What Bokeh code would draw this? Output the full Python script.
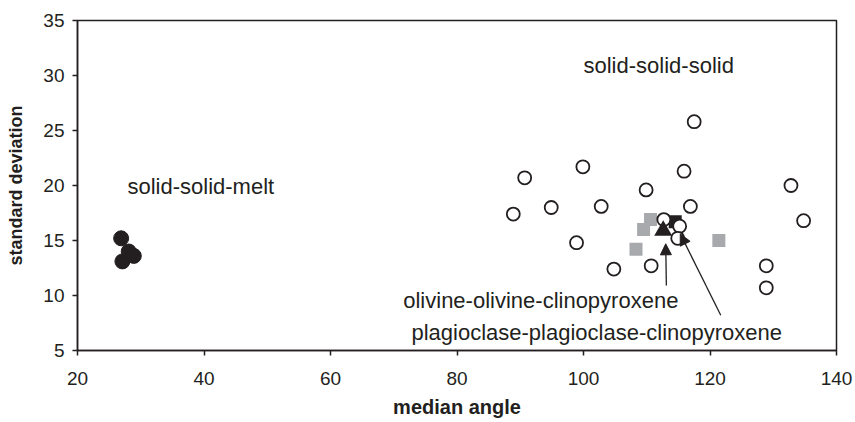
from bokeh.plotting import figure
from bokeh.models import Range1d, FixedTicker, Arrow, NormalHead, Label
from bokeh.embed import file_html
from bokeh.resources import INLINE

# ---- data ----
melt_x = [26.9, 27.1, 28.1, 28.9]
melt_y = [15.2, 13.1, 14.0, 13.6]

solid_x = [117.5, 99.9, 90.7, 115.9, 132.8, 109.9, 88.9, 94.9, 102.8, 116.9,
           134.8, 112.7, 115.2, 114.9, 98.9, 104.8, 110.7, 128.9, 128.9]
solid_y = [25.8, 21.7, 20.7, 21.3, 20.0, 19.6, 17.4, 18.0, 18.1, 18.1,
           16.8, 16.9, 16.3, 15.2, 14.8, 12.4, 12.7, 12.7, 10.7]

gray_x = [110.6, 109.5, 108.3, 121.4]
gray_y = [16.9, 16.0, 14.2, 15.0]

plag_x = [114.5]
plag_y = [16.7]

oliv_x = [112.6]
oliv_y = [15.9]

x_ticks = [20, 40, 60, 80, 100, 120, 140]
y_ticks = [5, 10, 15, 20, 25, 30, 35]

INK = "#231f20"
FONT = "Liberation Sans"

p = figure(width=853, height=420, output_backend="svg", toolbar_location=None,
           x_range=Range1d(20, 140), y_range=Range1d(5, 35),
           min_border_left=77, min_border_right=17, min_border_top=20, min_border_bottom=65)
p.xgrid.visible = False
p.ygrid.visible = False
p.outline_line_color = INK
p.outline_line_width = 1.5

for ax in (p.xaxis[0], p.yaxis[0]):
    ax.axis_line_color = INK
    ax.axis_line_width = 1.5
    ax.major_tick_line_color = INK
    ax.major_tick_line_width = 1.5
    ax.major_tick_in = 0
    ax.major_tick_out = 5
    ax.minor_tick_line_color = None
    ax.major_label_text_font = FONT
    ax.major_label_text_font_size = "19px"
    ax.major_label_text_color = INK
    ax.axis_label_text_font = FONT
    ax.axis_label_text_font_style = "bold"
    ax.axis_label_text_color = INK

p.xaxis.axis_label_text_font_size = "20px"
p.yaxis.axis_label_text_font_size = "18px"
p.xaxis.ticker = FixedTicker(ticks=x_ticks)
p.yaxis.ticker = FixedTicker(ticks=y_ticks)
p.xaxis.axis_label = "median angle"
p.yaxis.axis_label = "standard deviation"
p.xaxis.major_label_standoff = 16
p.yaxis.major_label_standoff = 8
p.xaxis.axis_label_standoff = 8
p.yaxis.axis_label_standoff = 14

p.scatter(gray_x, gray_y, marker="square", size=13, fill_color="#a7a9ac", line_color=None)
p.scatter(plag_x, plag_y, marker="square", size=13, fill_color=INK, line_color=None)
p.scatter(solid_x, solid_y, marker="circle", size=13, fill_color="white", line_color=INK, line_width=1.8)
p.scatter(oliv_x, oliv_y, marker="triangle", size=18, fill_color=INK, line_color=None)
p.scatter(melt_x, melt_y, marker="circle", size=15, fill_color=INK, line_color=INK)

for (x0, y0, x1, y1) in [(113.1, 10.9, 113.0, 14.7), (121.7, 8.2, 115.3, 15.6)]:
    p.add_layout(Arrow(end=NormalHead(size=11, fill_color=INK, line_color=INK),
                       x_start=x0, y_start=y0, x_end=x1, y_end=y1,
                       line_color=INK, line_width=1.3))

labels = [
    ("solid-solid-solid", 100.0, 30.9),
    ("solid-solid-melt", 27.9, 19.9),
    ("olivine-olivine-clinopyroxene", 71.5, 9.55),
    ("plagioclase-plagioclase-clinopyroxene", 72.8, 6.6),
]
for t, x, y in labels:
    p.add_layout(Label(x=x, y=y, text=t, text_font=FONT, text_font_size="22px",
                       text_color=INK, text_baseline="alphabetic", text_align="left"))

open("out.html", "w").write(file_html(p, INLINE))
